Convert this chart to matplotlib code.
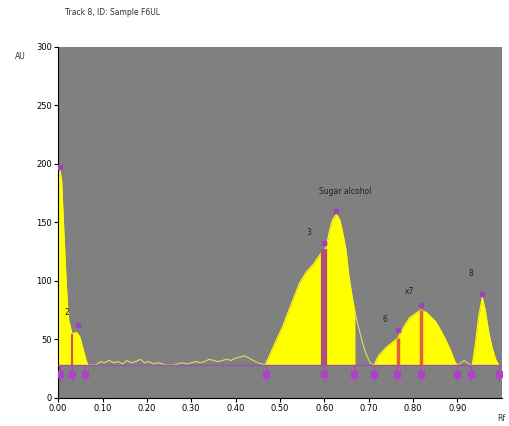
import numpy as np
import matplotlib
matplotlib.use("Agg")
import matplotlib.pyplot as plt

# densitogram (Rf, AU)
baseline = 28

p12_rf = [0.000, 0.004, 0.008, 0.012, 0.015, 0.018, 0.021, 0.024, 0.028, 0.031,
          0.035, 0.040, 0.044, 0.049, 0.054, 0.059, 0.063, 0.067]
p12_au = [185, 195, 185, 150, 125, 100, 80, 66, 60, 55,
          55, 56, 55, 52, 45, 38, 32, 28]

noise_rf = [0.068, 0.085, 0.095, 0.105, 0.115, 0.125, 0.135, 0.145, 0.155, 0.165,
            0.175, 0.185, 0.195, 0.205, 0.215, 0.225, 0.235, 0.245, 0.26, 0.27,
            0.28, 0.29, 0.30, 0.31, 0.32, 0.33, 0.34, 0.35, 0.36, 0.37, 0.38,
            0.39, 0.40, 0.41, 0.42, 0.43, 0.44, 0.45, 0.46, 0.468]
noise_au = [28, 28, 31, 30, 32, 30, 31, 29, 32, 30,
            31, 33, 30, 31, 29, 30, 29, 28, 28, 29,
            30, 29, 30, 31, 30, 31, 33, 32, 31, 32, 33,
            32, 34, 35, 36, 34, 32, 30, 29, 28]

p3_rf = [0.466, 0.475, 0.490, 0.506, 0.520, 0.544, 0.560, 0.575, 0.582, 0.593, 0.600,
         0.604, 0.610, 0.618, 0.627, 0.635, 0.642, 0.649, 0.655, 0.662, 0.669]
p3_au = [28, 35, 48, 61, 75, 98, 108, 114, 118, 124, 126,
         129, 140, 152, 157, 152, 140, 126, 105, 88, 73]

tail_rf = [0.669, 0.676, 0.684, 0.690, 0.697, 0.703, 0.712]
tail_au = [73, 62, 50, 42, 35, 30, 28]

p4_rf = [0.712, 0.722, 0.739, 0.752, 0.765, 0.778, 0.791, 0.805, 0.817, 0.830,
         0.851, 0.862, 0.873, 0.885, 0.893, 0.899]
p4_au = [28, 36, 43, 47, 51, 60, 68, 72, 75, 73,
         65, 58, 50, 40, 32, 28]

bump_rf = [0.899, 0.908, 0.915, 0.922, 0.930]
bump_au = [28, 30, 32, 30, 28]

p5_rf = [0.933, 0.940, 0.948, 0.956, 0.963, 0.971, 0.978, 0.986, 0.993]
p5_au = [28, 45, 70, 86, 74, 55, 43, 33, 28]

split_rf = [0.031, 0.600, 0.765, 0.817]
split_au = [55, 127, 51, 75]
top_rf = [0.004, 0.044, 0.600, 0.627, 0.765, 0.817, 0.956]
top_au = [197, 62, 132, 160, 58, 79, 89]
bound_rf = [0.004, 0.031, 0.061, 0.469, 0.600, 0.667, 0.712, 0.764, 0.817, 0.899, 0.930, 0.993]

labels = ["2", "3", "Sugar alcohol", "6", "x7", "8"]
label_rf = [0.019, 0.566, 0.648, 0.737, 0.792, 0.930]
label_au = [73, 141, 176, 67, 91, 106]

yellow = "#ffff00"
grey = "#808080"

fig = plt.figure(figsize=(5.1, 4.26), dpi=100)
ax = fig.add_axes([0.114, 0.066, 0.870, 0.824])
ax.set_facecolor(grey)

for rf, au in [(p12_rf, p12_au), (p3_rf, p3_au), (p4_rf, p4_au), (p5_rf, p5_au)]:
    ax.fill_between(rf, baseline, au, color=yellow, lw=0, zorder=2)
    ax.plot(rf, au, color=yellow, lw=0.8, zorder=2)

for rf, au in [(noise_rf, noise_au), (tail_rf, tail_au), (bump_rf, bump_au)]:
    ax.plot(rf, au, color="#d8e060", lw=0.8, zorder=2)

ax.axhline(baseline, color="#a050b0", lw=1.0, zorder=3)

colors = ["#d0506a", "#b05080", "#e06040", "#e06040"]
widths = [1.5, 4.5, 2.5, 2.5]
for x, h, c, w in zip(split_rf, split_au, colors, widths):
    ax.vlines(x, baseline, h, color=c, lw=w, zorder=4)

ax.plot(top_rf, top_au, ls="none", marker="s", ms=3, color="#a040c0", zorder=5)
ax.plot(bound_rf, [20] * len(bound_rf), ls="none", marker="s", ms=4,
        color="#b040c8", zorder=5)
ax.vlines(bound_rf, 14, baseline, color="#b040c8", lw=0.8, zorder=5)

for t, x, y in zip(labels, label_rf, label_au):
    ax.text(x, y, t, fontsize=5.5, color="#202020", ha="center", va="center", zorder=6)

ax.set_xlim(0, 1.0)
ax.set_ylim(0, 300)
ax.set_xticks(np.arange(0, 1.0, 0.1))
ax.set_xticklabels(["%.2f" % v for v in np.arange(0, 1.0, 0.1)])
ax.set_yticks(range(0, 301, 50))
ax.tick_params(labelsize=6, length=3, width=0.8, pad=1.5)
for s in ["top", "right"]:
    ax.spines[s].set_visible(False)

fig.text(0.127, 0.965, "Track 8, ID: Sample F6UL", fontsize=5.5, color="#303030")
fig.text(0.03, 0.862, "AU", fontsize=5.5, color="#303030")
fig.text(0.975, 0.012, "Rf", fontsize=5.5, color="#303030")

fig.savefig("out.png", dpi=100)
